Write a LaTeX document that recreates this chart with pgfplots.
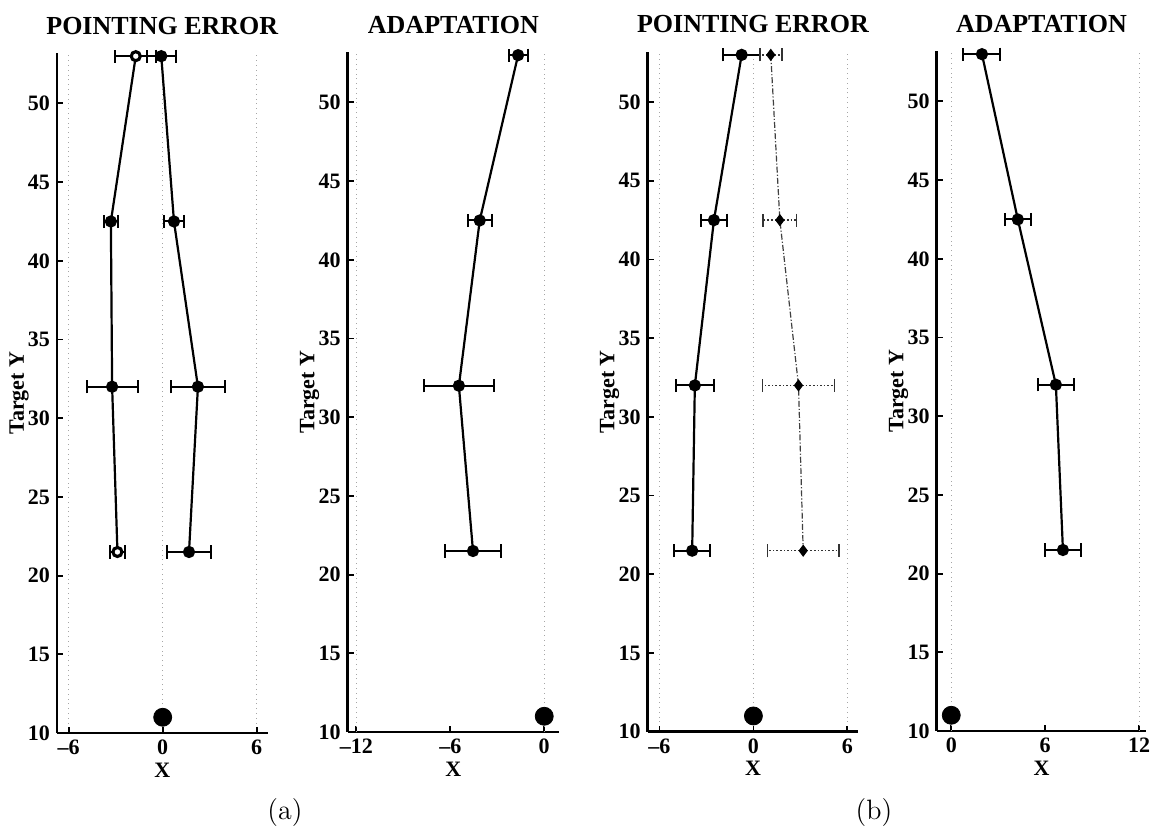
\documentclass[border=0pt]{standalone}
\usepackage{fontspec}
\usepackage{pgfplots}
\pgfplotsset{compat=1.18}
\newfontfamily\tnr{Liberation Serif}
\begin{document}
\begin{tikzpicture}
\path[use as bounding box] (0,0) rectangle (577.5pt,415.5pt);
\pgfplotsset{
  panel/.style={
    anchor=south west,
    x=7.83pt, y=7.87pt,
    ymin=10, ymax=53.2,
    clip=false,
    axis x line*=bottom, axis y line*=left,
    axis line style={-, line width=1.3pt, black},
    ytick={10,15,...,50},
    tick align=inside,
    major tick length=3pt,
    tick style={line width=0.9pt, black},
    /pgf/number format/assume math mode=true,
    tick label style={font=\tnr\bfseries\fontsize{11}{12}\selectfont},
    xlabel={X}, ylabel={Target Y},
    label style={font=\tnr\bfseries\fontsize{11}{12}\selectfont},
    xlabel style={at={(axis description cs:0.5,0)}, anchor=center, yshift=-18.5pt},
    ylabel style={at={(axis description cs:0,0.5)}, anchor=center, yshift=19pt},
    title style={font=\tnr\bfseries\fontsize{13}{14}\selectfont, at={(axis description cs:0.5,1)}, anchor=base, yshift=3.5pt},
    major grid style={dotted, gray!70, line width=0.7pt},
  },
  errbar/.style={black, line width=1.1pt, mark=*, mark size=2.5pt,
    error bars/.cd, x dir=both, x explicit, error mark=|,
    error bar style={line width=1pt, solid},
    error mark options={line width=1pt, mark size=3.3pt, solid}},
  dotbar/.style={black!75, line width=0.6pt, densely dash dot, mark=diamond*, mark size=2.6pt,
    mark options={solid, black},
    error bars/.cd, x dir=both, x explicit, error mark=|,
    error bar style={line width=0.8pt, densely dotted, black!80},
    error mark options={line width=0.8pt, mark size=3.3pt, solid, black!80}},
  bigdot/.style={only marks, mark=*, mark size=4.5pt, black},
}
% (a) pointing error
\begin{axis}[panel, at={(28.5pt,49pt)}, xmin=-6.75, xmax=6.7,
  xtick={-6,0,6}, xticklabels={\textendash6,0,6}, xmajorgrids,
  title={POINTING ERROR}]
\addplot[errbar] coordinates {(-1.72,53) +- (1.30,0) (-3.31,42.5) +- (0.45,0) (-3.23,32) +- (1.63,0) (-2.89,21.5) +- (0.47,0)};
\addplot[only marks, mark=*, mark size=1.9pt, mark options={fill=white, line width=0.9pt}, black] coordinates {(-1.72,53) (-2.89,21.5)};
\addplot[errbar] coordinates {(-0.09,53) +- (0.93,0) (0.72,42.5) +- (0.62,0) (2.25,32) +- (1.74,0) (1.68,21.5) +- (1.38,0)};
\addplot[bigdot] coordinates {(0,11)};
\end{axis}
% (a) adaptation
\begin{axis}[panel, at={(173.85pt,49.5pt)}, xmin=-12.55, xmax=0.95,
  xtick={-12,-6,0}, xticklabels={\textendash12,\textendash6,0},
  extra x ticks={-12,0}, extra x tick labels={}, extra x tick style={grid=major, major tick length=0pt},
  title={ADAPTATION}]
\addplot[errbar] coordinates {(-1.67,53) +- (0.61,0) (-4.12,42.5) +- (0.76,0) (-5.45,32) +- (2.24,0) (-4.55,21.5) +- (1.79,0)};
\addplot[bigdot] coordinates {(0,11)};
\end{axis}
% (b) pointing error
\begin{axis}[panel, at={(323.85pt,49.65pt)}, xmin=-6.75, xmax=6.7,
  xtick={-6,0,6}, xticklabels={\textendash6,0,6}, xmajorgrids,
  title={POINTING ERROR}]
\addplot[errbar] coordinates {(-0.75,53) +- (1.19,0) (-2.52,42.5) +- (0.83,0) (-3.74,32) +- (1.20,0) (-3.91,21.5) +- (1.15,0)};
\addplot[dotbar] coordinates {(1.11,53) +- (0.70,0) (1.69,42.5) +- (1.07,0) (2.88,32) +- (2.29,0) (3.18,21.5) +- (2.28,0)};
\addplot[bigdot] coordinates {(0,11)};
\end{axis}
% (b) adaptation
\begin{axis}[panel, at={(468.35pt,50pt)}, xmin=-0.93, xmax=12.45,
  xtick={0,6,12}, xticklabels={0,6,12},
  extra x ticks={0,12}, extra x tick labels={}, extra x tick style={grid=major, major tick length=0pt},
  title={ADAPTATION}]
\addplot[errbar] coordinates {(1.96,53) +- (1.18,0) (4.25,42.5) +- (0.84,0) (6.68,32) +- (1.15,0) (7.13,21.5) +- (1.17,0)};
\addplot[bigdot] coordinates {(0,11)};
\end{axis}
\node[font=\fontsize{14}{16}\selectfont] at (142.5pt,9pt) {(a)};
\node[font=\fontsize{14}{16}\selectfont] at (437pt,9pt) {(b)};
\end{tikzpicture}
\end{document}
